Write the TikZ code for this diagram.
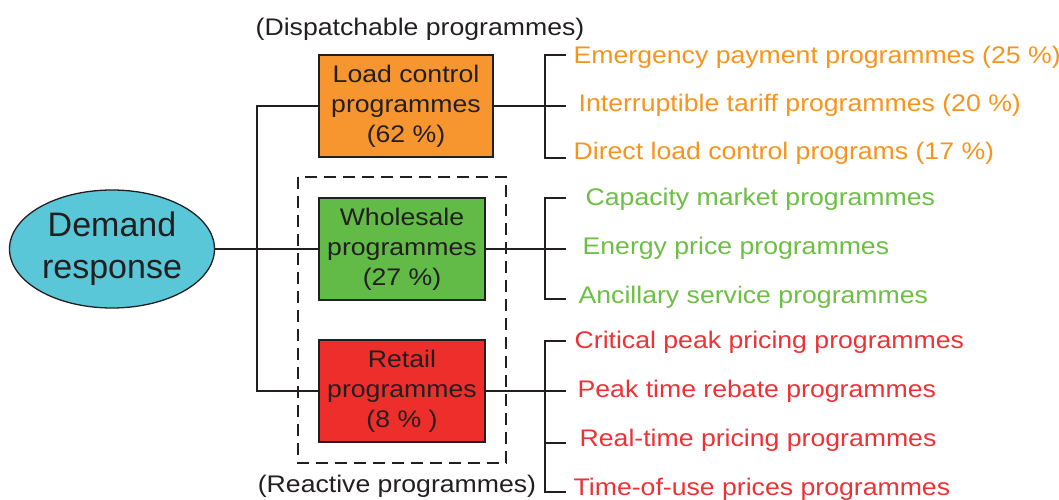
\documentclass[tikz,border=0pt]{standalone}
\usepackage{fontspec}
\setmainfont{Liberation Sans}[FakeStretch=1.11]
\newfontfamily\bigsans{Liberation Sans}
\usetikzlibrary{shapes.geometric}

\definecolor{ink}{HTML}{231F20}
\definecolor{drfill}{HTML}{5AC7D8}
\definecolor{loadfill}{HTML}{F7962E}
\definecolor{wholefill}{HTML}{62BB47}
\definecolor{retailfill}{HTML}{EE2E2B}
\definecolor{loadtext}{HTML}{F7941D}
\definecolor{wholetext}{HTML}{6DBE45}
\definecolor{retailtext}{HTML}{EE3135}

\begin{document}
\begin{tikzpicture}[x=1pt, y=-1pt, line width=1.3pt, draw=ink,
  prog/.style={draw=ink, minimum height=102pt, inner sep=0pt, align=center,
    text=ink, font=\fontsize{24}{30}\selectfont},
  item/.style={anchor=west, inner sep=0pt, text height=17pt, text depth=0pt,
    font=\fontsize{24}{30}\selectfont},
  note/.style={inner sep=0pt, text height=17pt, text depth=0pt, text=ink,
    font=\fontsize{24}{30}\selectfont}]
  \useasboundingbox (0,0) rectangle (1059,500);

  % dashed group of the reactive programmes
  \draw[ink, dash pattern=on 12pt off 7pt] (298,177) rectangle (506,463);

  \node[ellipse, draw=ink, fill=drfill, minimum width=205pt, minimum height=118pt,
    inner sep=0pt, align=center, text=ink,
    font=\bigsans\fontsize{34}{42}\selectfont] (dr) at (112,249) {Demand\\response};

  \node[prog, fill=loadfill, minimum width=174pt] (load) at (406,106) {Load control\\programmes\\(62 \%)};
  \node[prog, fill=wholefill, minimum width=166pt] (whole) at (402,249) {Wholesale\\programmes\\(27 \%)};
  \node[prog, fill=retailfill, minimum width=166pt] (retail) at (402,391) {Retail\\programmes\\(8 \% )};

  \node[note] (disp) at (420,27) {(Dispatchable programmes)};
  \node[note] (react) at (397,484) {(Reactive programmes)};

  % trunk on the left
  \coordinate (trunk) at (257,249);
  \draw (load.west) -| (trunk) |- (retail.west);
  \draw (dr.east) -- (whole.west);

  % brackets on the right
  \coordinate (ob) at (545,106);
  \coordinate (gb) at (545,249);
  \coordinate (rb) at (545,391);
  \coordinate (t1) at (566,55);
  \coordinate (t2) at (566,106);
  \coordinate (t3) at (566,158);
  \coordinate (t4) at (566,198);
  \coordinate (t5) at (566,249);
  \coordinate (t6) at (566,299);
  \coordinate (t7) at (566,341);
  \coordinate (t8) at (566,391);
  \coordinate (t9) at (566,443);
  \coordinate (t10) at (566,492);

  \draw (load.east) -- (ob) -- (t2);
  \draw (t1) -| (ob |- t3) -- (t3);
  \draw (whole.east) -- (gb) -- (t5);
  \draw (t4) -| (gb |- t6) -- (t6);
  \draw (retail.east) -- (rb) -- (t8);
  \draw (t7) -| (rb |- t10) -- (t10);
  \draw (rb |- t9) -- (t9);

  \node[item, text=loadtext] (e1) at (573,55.5) {Emergency payment programmes (25 \%)};
  \node[item, text=loadtext] (e2) at (578,103) {Interruptible tariff programmes (20 \%)};
  \node[item, text=loadtext] (e3) at (573,150.5) {Direct load control programs (17 \%)};
  \node[item, text=wholetext] (e4) at (585,197) {Capacity market programmes};
  \node[item, text=wholetext] (e5) at (582,246) {Energy price programmes};
  \node[item, text=wholetext] (e6) at (578,295) {Ancillary service programmes};
  \node[item, text=retailtext] (e7) at (574,339.5) {Critical peak pricing programmes};
  \node[item, text=retailtext] (e8) at (577,389) {Peak time rebate programmes};
  \node[item, text=retailtext] (e9) at (579,437.5) {Real-time pricing programmes};
  \node[item, text=retailtext] (e10) at (573,486.5) {Time-of-use prices programmes};
\end{tikzpicture}
\end{document}
